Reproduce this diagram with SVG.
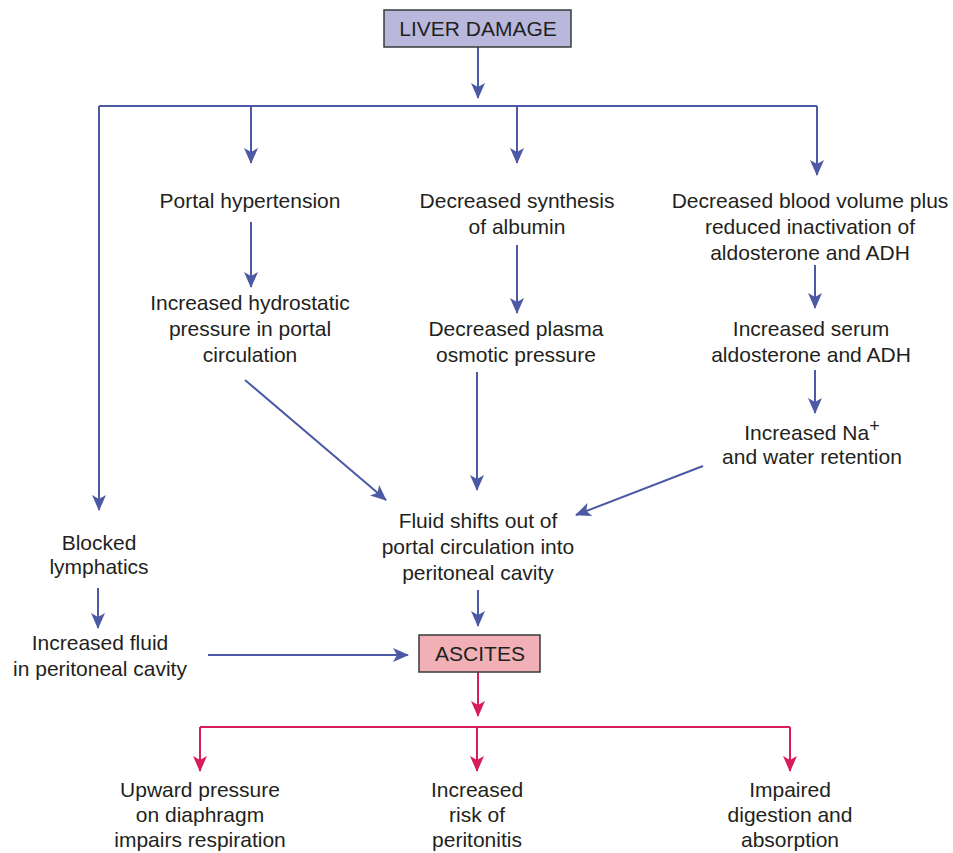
<svg xmlns="http://www.w3.org/2000/svg" width="953" height="853" viewBox="0 0 953 853">
<defs>
<marker id="ab" markerUnits="userSpaceOnUse" markerWidth="16" markerHeight="14" viewBox="0 0 16 14" refX="15" refY="7" orient="auto">
<path d="M0,0 L16,7 L0,14 L4,7 Z" fill="#4c5aa6"/>
</marker>
<marker id="ar" markerUnits="userSpaceOnUse" markerWidth="16" markerHeight="14" viewBox="0 0 16 14" refX="15" refY="7" orient="auto">
<path d="M0,0 L16,7 L0,14 L4,7 Z" fill="#d81b5e"/>
</marker>
</defs>
<style>
text{font-family:"Liberation Sans",Arial,sans-serif;font-size:21px;fill:#231f20;text-anchor:middle}
.b{stroke:#4c5aa6;stroke-width:2;fill:none}
.r{stroke:#d81b5e;stroke-width:2;fill:none}
.ba{marker-end:url(#ab)}
.ra{marker-end:url(#ar)}
</style>
<rect width="953" height="853" fill="#fff"/>
<g id="connectors">
<path class="b ba" d="M478,47 V98"/>
<path class="b" d="M99,106 H817"/>
<path class="b ba" d="M99,106 V510"/>
<path class="b ba" d="M251,106 V163"/>
<path class="b ba" d="M517,106 V163"/>
<path class="b ba" d="M817,106 V175"/>
<path class="b ba" d="M251,222 V287"/>
<path class="b ba" d="M517,245 V313"/>
<path class="b ba" d="M815,265 V308"/>
<path class="b ba" d="M815,370 V413"/>
<path class="b ba" d="M245,380 L386,500"/>
<path class="b ba" d="M477,372 V490"/>
<path class="b ba" d="M703,466 L576,515"/>
<path class="b ba" d="M478,590 V626"/>
<path class="b ba" d="M98,588 V628"/>
<path class="b ba" d="M208,655 H408"/>
<path class="r ra" d="M478,672 V716"/>
<path class="r" d="M200,727 H790"/>
<path class="r ra" d="M200,727 V771"/>
<path class="r ra" d="M477,727 V771"/>
<path class="r ra" d="M790,727 V771"/>
</g>
<g id="liver-damage">
<rect x="384" y="10" width="187" height="37" fill="#b9b8dc" stroke="#3a3a3a" stroke-width="1.5"/>
<text x="478" y="36">LIVER DAMAGE</text>
</g>
<g id="portal-hypertension"><text x="250" y="208">Portal hypertension</text></g>
<g id="decreased-synthesis"><text x="517" y="208">Decreased synthesis</text><text x="517" y="234">of albumin</text></g>
<g id="decreased-blood-volume"><text x="810" y="208">Decreased blood volume plus</text><text x="810" y="234">reduced inactivation of</text><text x="810" y="260">aldosterone and ADH</text></g>
<g id="increased-hydrostatic"><text x="250" y="310">Increased hydrostatic</text><text x="250" y="336">pressure in portal</text><text x="250" y="362">circulation</text></g>
<g id="decreased-plasma"><text x="516" y="336">Decreased plasma</text><text x="516" y="362">osmotic pressure</text></g>
<g id="increased-serum"><text x="811" y="336">Increased serum</text><text x="811" y="362">aldosterone and ADH</text></g>
<g id="increased-na"><text x="812" y="440">Increased Na<tspan font-size="18" dy="-8">+</tspan></text><text x="812" y="464">and water retention</text></g>
<g id="fluid-shifts"><text x="478" y="528">Fluid shifts out of</text><text x="478" y="554">portal circulation into</text><text x="478" y="580">peritoneal cavity</text></g>
<g id="blocked-lymphatics"><text x="99" y="550">Blocked</text><text x="99" y="574">lymphatics</text></g>
<g id="increased-fluid"><text x="100" y="650">Increased fluid</text><text x="100" y="676">in peritoneal cavity</text></g>
<g id="ascites">
<rect x="419" y="635" width="121" height="37" fill="#f0b0b5" stroke="#3a3a3a" stroke-width="1.5"/>
<text x="480" y="661">ASCITES</text>
</g>
<g id="upward-pressure"><text x="200" y="797">Upward pressure</text><text x="200" y="822">on diaphragm</text><text x="200" y="847">impairs respiration</text></g>
<g id="increased-risk"><text x="477" y="797">Increased</text><text x="477" y="822">risk of</text><text x="477" y="847">peritonitis</text></g>
<g id="impaired-digestion"><text x="790" y="797">Impaired</text><text x="790" y="822">digestion and</text><text x="790" y="847">absorption</text></g>
</svg>
